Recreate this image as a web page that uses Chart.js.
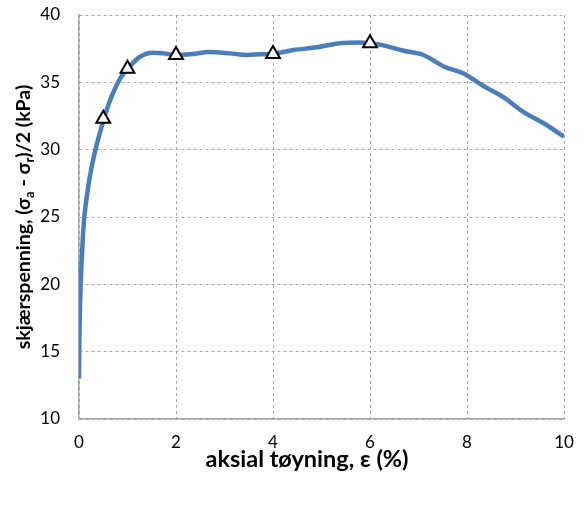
<!DOCTYPE html>
<html>
<head>
<meta charset="utf-8">
<script src="https://cdn.jsdelivr.net/npm/chart.js@4/dist/chart.umd.min.js"></script>
<style>
  html, body { margin: 0; padding: 0; background: #fff; }
  #wrap { width: 584px; height: 531px; position: relative; }
</style>
</head>
<body>
<div id="wrap"><canvas id="chart"></canvas></div>
<script>
// axial strain (%) and shear stress (kPa)
const strain = [0, 0.005, 0.01, 0.02, 0.035, 0.055, 0.08, 0.11, 0.16, 0.21, 0.26, 0.31, 0.36, 0.45, 0.5,
  0.58, 0.69, 0.85, 1.0, 1.26, 1.53, 1.74, 2.0, 2.29, 2.7, 3.11, 3.46, 3.73, 4.0, 4.42, 4.9,
  5.38, 5.79, 6.0, 6.2, 6.69, 7.1, 7.51, 7.92, 8.34, 8.75, 9.16, 9.58, 10.0];
const stress = [13.0, 15.0, 16.5, 18.3, 20.0, 21.8, 23.5, 25.0, 26.5, 27.7, 28.7, 29.55, 30.3, 31.5, 32.15,
  33.05, 34.1, 35.3, 36.0, 36.9, 37.2, 37.15, 37.03, 37.08, 37.25, 37.15, 37.03, 37.08, 37.12, 37.4, 37.6,
  37.9, 37.95, 37.9, 37.8, 37.35, 37.03, 36.2, 35.67, 34.73, 33.9, 32.8, 31.96, 30.97];

// triangle markers
const markStrain = [0.5, 1, 2, 4, 6];
const markStress = [32.3, 36.0, 37.03, 37.1, 37.9];

const xTicks = [0, 2, 4, 6, 8, 10];
const yTicks = [10, 15, 20, 25, 30, 35, 40];

const xTitle = "aksial tøyning, ε (%)";
// y title pieces: [text, isSubscript]
const yTitleParts = [
  ["skjærspenning, (σ", false],
  ["a", true],
  [" - σ", false],
  ["r", true],
  [")/2 (kPa)", false],
];

const FONT = "Lato, 'Open Sans', sans-serif";
const GRID = "#a6a6a6";

const titlesPlugin = {
  id: "titles",
  afterDraw(chart) {
    const ctx = chart.ctx;
    ctx.save();
    ctx.fillStyle = "#000";
    ctx.textBaseline = "middle";
    ctx.textAlign = "center";
    ctx.font = `bold 23.5px ${FONT}`;
    ctx.fillText(xTitle, 307, 459);

    // rotated y title with subscripts
    const big = `bold 19.5px ${FONT}`;
    const small = `bold 13px ${FONT}`;
    let total = 0;
    yTitleParts.forEach(([t, sub]) => {
      ctx.font = sub ? small : big;
      total += ctx.measureText(t).width;
    });
    ctx.translate(23, 217);
    ctx.rotate(-Math.PI / 2);
    ctx.textAlign = "left";
    ctx.textBaseline = "alphabetic";
    let x = -total / 2;
    yTitleParts.forEach(([t, sub]) => {
      ctx.font = sub ? small : big;
      ctx.fillText(t, x, sub ? 11 : 7);
      x += ctx.measureText(t).width;
    });
    ctx.restore();
  },
};

new Chart(document.getElementById("chart"), {
  type: "scatter",
  data: {
    datasets: [
      {
        data: markStrain.map((x, i) => ({ x, y: markStress[i] })),
        showLine: false,
        pointStyle: "triangle",
        pointRadius: 8,
        pointBorderWidth: 2,
        pointBorderColor: "#000",
        pointBackgroundColor: "#fff",
      },
      {
        data: strain.map((x, i) => ({ x, y: stress[i] })),
        showLine: true,
        borderColor: "#4a7ebb",
        borderWidth: 4.5,
        cubicInterpolationMode: "monotone",
        pointRadius: 0,
        fill: false,
      },
    ],
  },
  options: {
    responsive: true,
    maintainAspectRatio: false,
    animation: false,
    layout: { padding: { top: 15, right: 20, left: 0, bottom: 0 } },
    plugins: { legend: { display: false }, tooltip: { enabled: false } },
    scales: {
      x: {
        type: "linear",
        min: 0,
        max: 10,
        afterFit: (s) => { s.height = 112; s.paddingLeft = 0; s.paddingRight = 0; },
        afterBuildTicks: (s) => { s.ticks = xTicks.map((v) => ({ value: v })); },
        ticks: { color: "#000", font: { family: FONT, size: 17 }, padding: 13 },
        grid: { color: GRID, drawTicks: false, lineWidth: 1 },
        border: { color: GRID, width: 1.5, dash: [3, 3] },
      },
      y: {
        type: "linear",
        min: 10,
        max: 40,
        afterFit: (s) => { s.width = 79; s.paddingTop = 0; s.paddingBottom = 0; },
        afterBuildTicks: (s) => { s.ticks = yTicks.map((v) => ({ value: v })); },
        ticks: { color: "#000", font: { family: FONT, size: 17 }, padding: 19 },
        grid: { color: GRID, drawTicks: false, lineWidth: 1 },
        border: { color: GRID, width: 1.5, dash: [3, 3] },
      },
    },
  },
  plugins: [titlesPlugin],
});
</script>
</body>
</html>
